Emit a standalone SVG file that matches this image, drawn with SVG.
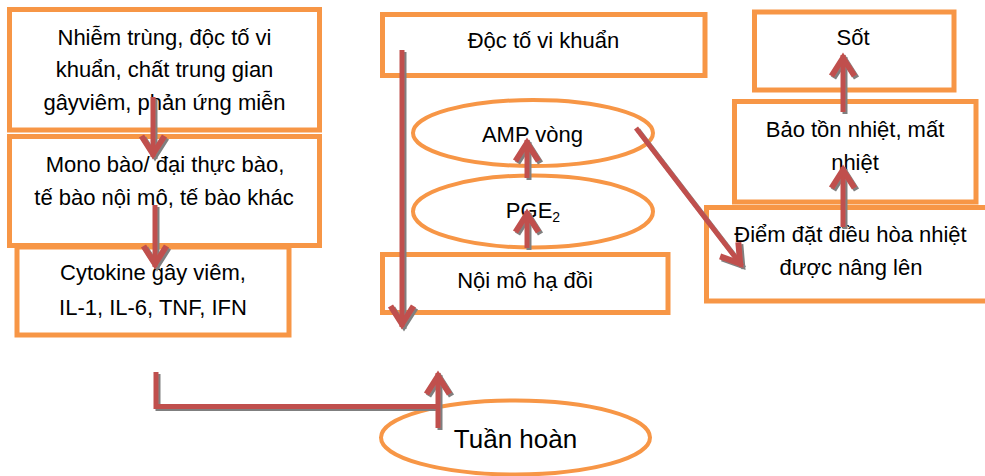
<svg xmlns="http://www.w3.org/2000/svg" width="985" height="476" viewBox="0 0 985 476">
  <defs>
    <style>
      .box { fill: #ffffff; stroke: #F79646; stroke-width: 5; }
      .oval { fill: #ffffff; stroke: #F79646; stroke-width: 4; }
      .lbl { font-family: "Liberation Sans", Arial, sans-serif; font-size: 22px; fill: #000000; text-anchor: middle; }
      .big { font-size: 26px; }
      .wire { fill: none; stroke: #C0504D; stroke-width: 5; }
    </style>
    <marker id="chev" markerUnits="userSpaceOnUse" orient="auto" overflow="visible" refX="0" refY="0" markerWidth="1" markerHeight="1">
      <path d="M-21,-11.5 L-3,0 L-21,11.5" fill="none" stroke="#C0504D" stroke-width="6"/>
    </marker>
    <filter id="shadow" x="-20%" y="-20%" width="140%" height="140%">
      <feDropShadow dx="2" dy="2" stdDeviation="0.7" flood-color="#7f7f7f" flood-opacity="1"/>
    </filter>
  </defs>

  <rect width="985" height="476" fill="#ffffff"/>

  <!-- left column -->
  <g id="infection">
    <rect class="box" x="9.5" y="9.5" width="310" height="120.5"/>
    <text class="lbl" x="164.5" y="45">Nhiễm trùng, độc tố vi</text>
    <text class="lbl" x="164.5" y="77">khuẩn, chất trung gian</text>
    <text class="lbl" x="164.5" y="110">gâyviêm, phản ứng miễn</text>
  </g>
  <g id="cells">
    <rect class="box" x="9.5" y="136.5" width="310" height="109"/>
    <text class="lbl" x="165" y="172">Mono bào/ đại thực bào,</text>
    <text class="lbl" x="164" y="205">tế bào nội mô, tế bào khác</text>
  </g>
  <g id="cytokine">
    <rect class="box" x="17" y="247" width="272" height="88"/>
    <text class="lbl" x="153" y="280">Cytokine gây viêm,</text>
    <text class="lbl" x="153" y="315">IL-1, IL-6, TNF, IFN</text>
  </g>

  <!-- middle column -->
  <g id="toxin">
    <rect class="box" x="382.5" y="14.5" width="322.5" height="61"/>
    <text class="lbl" x="543.5" y="48">Độc tố vi khuẩn</text>
  </g>
  <g id="camp">
    <ellipse class="oval" cx="533" cy="133" rx="120" ry="33"/>
    <text class="lbl" x="532.5" y="142">AMP vòng</text>
  </g>
  <g id="pge2">
    <ellipse class="oval" cx="533" cy="211.5" rx="120" ry="36"/>
    <text class="lbl" x="533" y="218">PGE<tspan font-size="14" dy="4">2</tspan></text>
  </g>
  <g id="hypothalamus">
    <rect class="box" x="382.5" y="254.5" width="285.5" height="58"/>
    <text class="lbl" x="525" y="288">Nội mô hạ đồi</text>
  </g>

  <!-- right column -->
  <g id="fever">
    <rect class="box" x="754.5" y="12" width="199.5" height="78"/>
    <text class="lbl" x="853" y="45">Sốt</text>
  </g>
  <g id="heat-balance">
    <rect class="box" x="734.5" y="101.5" width="241.5" height="100.5"/>
    <text class="lbl" x="855" y="137">Bảo tồn nhiệt, mất</text>
    <text class="lbl" x="855" y="170">nhiệt</text>
  </g>
  <g id="set-point">
    <rect class="box" x="706.5" y="207.5" width="290" height="93.5"/>
    <text class="lbl" x="850.5" y="242">Điểm đặt điều hòa nhiệt</text>
    <text class="lbl" x="851" y="275">được nâng lên</text>
  </g>

  <!-- bottom -->
  <g id="circulation">
    <ellipse class="oval" cx="515.5" cy="437.5" rx="134.5" ry="37"/>
    <text class="lbl big" x="515.5" y="448">Tuần hoàn</text>
  </g>

  <!-- connectors -->
  <g id="connectors" filter="url(#shadow)">
    <path class="wire" d="M153,97 V157" marker-end="url(#chev)"/>
    <path class="wire" d="M155,205 V267" marker-end="url(#chev)"/>
    <path class="wire" d="M402,50 V327" marker-end="url(#chev)"/>
    <path class="wire" d="M527,248 V211" marker-end="url(#chev)"/>
    <path class="wire" d="M527,178 V140" marker-end="url(#chev)"/>
    <path class="wire" d="M636,128 L742,266" marker-end="url(#chev)"/>
    <path class="wire" d="M843,227 V167" marker-end="url(#chev)"/>
    <path class="wire" d="M843,112 V55" marker-end="url(#chev)"/>
    <path class="wire" d="M156,372 V406.5 H438"/>
    <path class="wire" d="M438,428 V373" marker-end="url(#chev)"/>
  </g>
</svg>
